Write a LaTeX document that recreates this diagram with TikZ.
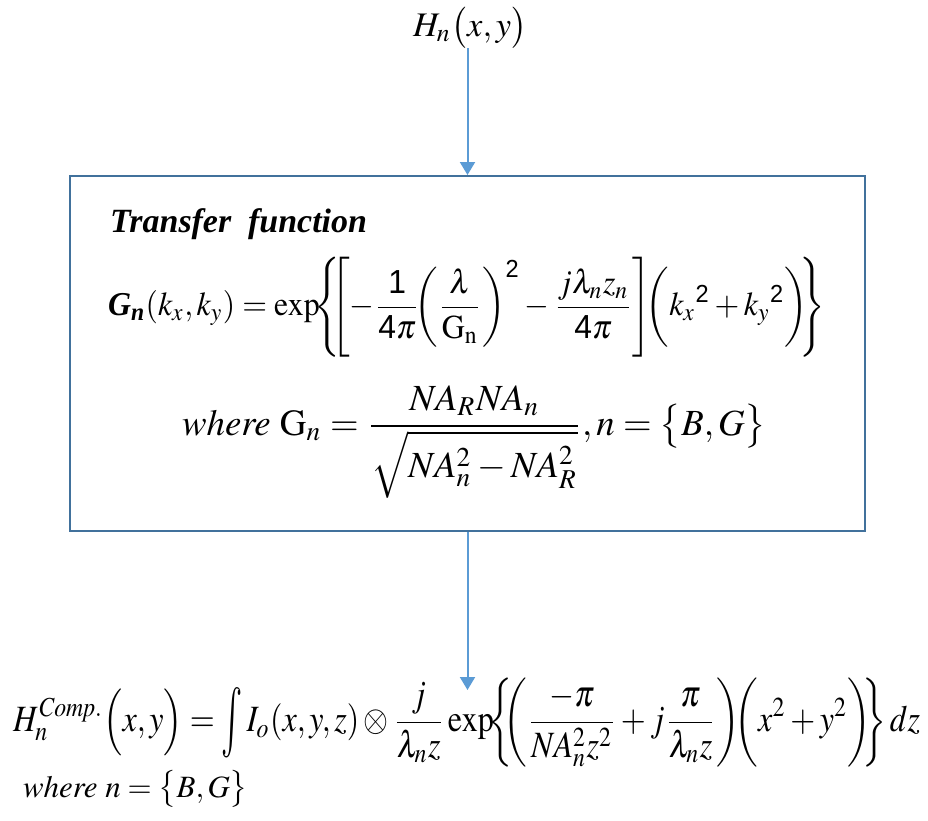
\documentclass[tikz,border=0pt]{standalone}
\usepackage{amsmath}
\usepackage{mathptmx}
\usepackage{fontspec}
\setmainfont{Liberation Serif}
\newfontfamily\arialf{Liberation Sans}
\usepackage{graphicx}
\usetikzlibrary{arrows.meta}
\definecolor{boxblue}{HTML}{41719C}
\definecolor{arrblue}{HTML}{5B9BD5}
\newcommand{\sfn}[1]{\text{\arialf #1}}
\newcommand{\bgi}[1]{\text{\bfseries\itshape #1}}
\newcommand{\nb}{\mkern-5mu}
\newcommand{\tallint}{\mathop{\vcenter{\hbox{\scalebox{1.1}[1.9]{$\textstyle\int$}}}}\nolimits}
\begin{document}
\begin{tikzpicture}[x=1pt,y=-1pt,
  eq/.style={inner sep=0pt, outer sep=0pt},
  arr/.style={draw=arrblue, line width=2pt, -{Triangle[width=15pt,length=13pt]}},
  tfbox/.style={draw=boxblue, line width=2pt, minimum width=795pt, minimum height=355pt, inner sep=0pt}]
\useasboundingbox (0,0) rectangle (928,820);
\node[eq, anchor=base] (Hin) at (470,36) {\resizebox{114pt}{!}{$H_n\bigl(x,y\bigr)$}};
\node[tfbox] (tf) at (467.5,353.5) {};
\node[eq, anchor=base west] (title) at (110,232) {\resizebox{257pt}{!}{\bfseries\itshape Transfer\ \ function}};
\node[eq, anchor=west] (g1) at (108,307.5) {\resizebox*{717pt}{100pt}{$\displaystyle \bgi{G}_{\bgi{n}}(k_x,k_y)=\exp\nb\left\{\nb\left[-\frac{\sfn{1}}{\sfn{4}\pi}\nb\left(\frac{\lambda}{\mathrm{G_n}}\right)^{\sfn{2}}-\frac{j\lambda_n z_n}{\sfn{4}\pi}\right]\nb\left(\vphantom{\left(\frac{\lambda}{\mathrm{G}}\right)}k_x{}^{\sfn{2}}+k_y{}^{\sfn{2}}\right)\nb\right\}$}};
\node[eq, anchor=base west] (g2) at (182,435) {\resizebox{584pt}{!}{$\displaystyle \mathit{where}\ \mathrm{G}_n=\frac{NA_R NA_n}{\sqrt{NA_n^2-NA_R^2}}, n=\bigl\{B,G\bigr\}$}};
\node[eq, anchor=west] (hout) at (13,722.5) {\resizebox*{907pt}{89pt}{$\displaystyle H_n^{\mathit{Comp.}}\Bigl(x,y\Bigr)=\tallint I_o(x,y,z)\otimes\frac{j}{\lambda_n z}\exp\nb\left\{\nb\left(\frac{-\pi}{NA_n^2 z^2}+j\frac{\pi}{\lambda_n z}\right)\nb\left(\vphantom{\frac{\pi}{\lambda_n z}}x^2+y^2\right)\nb\right\}dz$}};
\node[eq, anchor=base west] (wn) at (23,797) {\resizebox{225pt}{!}{$\mathit{where}\ n=\bigl\{B,G\bigr\}$}};
\coordinate (aend) at (467.5,690);
\draw[arr] (tf.north |- Hin.south) -- (tf.north);
\draw[arr] (tf.south) -- (aend);
\end{tikzpicture}
\end{document}
